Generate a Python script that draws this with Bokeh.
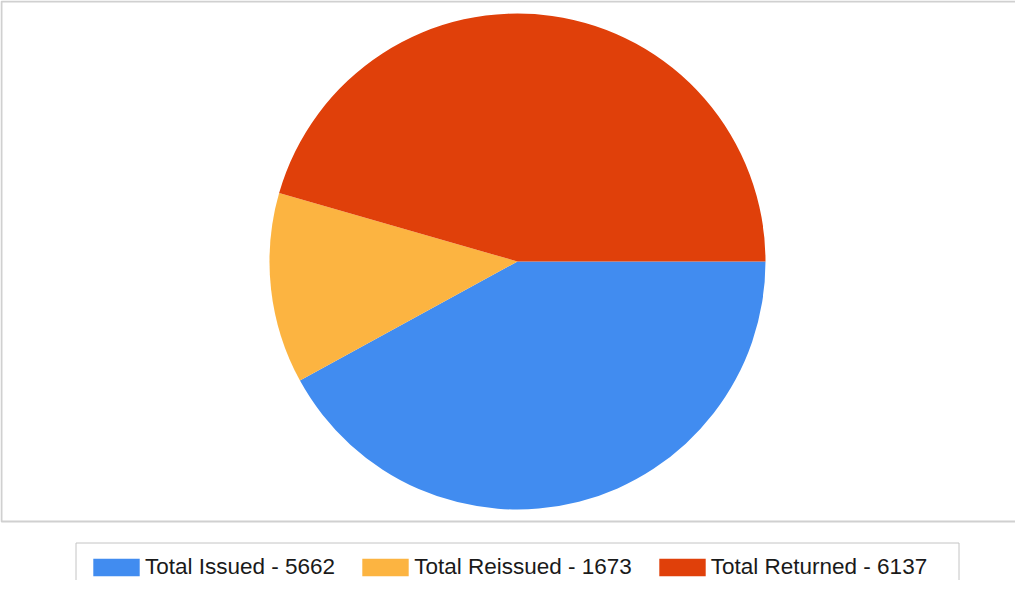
from math import pi
from bokeh.plotting import figure
from bokeh.models import ColumnDataSource, Range1d, Legend, LegendItem
from bokeh.embed import file_html
from bokeh.resources import INLINE

# ---- data ----
labels = ["Total Issued", "Total Reissued", "Total Returned"]
values = [5662, 1673, 6137]
colors = ["#418CF0", "#FCB441", "#E0400A"]

total = float(sum(values))
ends = []
acc = 0.0
for v in values:
    acc += v
    ends.append(acc)
starts = [e - v for e, v in zip(ends, values)]

source = ColumnDataSource(dict(
    label=[f"{l} - {v}" for l, v in zip(labels, values)],
    value=values,
    color=colors,
    # clockwise from 3 o'clock
    start=[-e / total * 2 * pi for e in ends],
    end=[-s / total * 2 * pi for s in starts],
))

W, H = 1015, 580
p = figure(width=W, height=H, output_backend="svg", toolbar_location=None,
           x_range=Range1d(0, W), y_range=Range1d(0, H),
           min_border=0, outline_line_color=None, background_fill_color="white",
           border_fill_color="white")
p.axis.visible = False
p.grid.visible = False

# chart area frame
p.quad(left=1, right=1200, top=H - 1, bottom=H - 521, fill_color=None,
       line_color="#d0d0d0", line_width=2)

# legend frame
p.quad(left=75.5, right=958.5, top=H - 542.5, bottom=-10, fill_color=None,
       line_color="#c4c4c4", line_width=1)

cx, cy, r = 517, H - 261, 248
wedges = p.wedge(x=cx, y=cy, radius=r, start_angle="start", end_angle="end",
                 direction="anticlock", fill_color="color", line_color=None,
                 source=source)

legend = Legend(items=[LegendItem(label=dict(field="label"), renderers=[wedges])],
                orientation="horizontal", location=(87, 0),
                glyph_width=58, glyph_height=22, label_standoff=0, spacing=21,
                padding=0, margin=0,
                label_text_font="Liberation Sans", label_text_font_size="22.5px",
                label_text_color="#1a1a1a",
                border_line_color=None, background_fill_alpha=0)
p.add_layout(legend, "center")

open("out.html", "w").write(file_html(p, INLINE))
